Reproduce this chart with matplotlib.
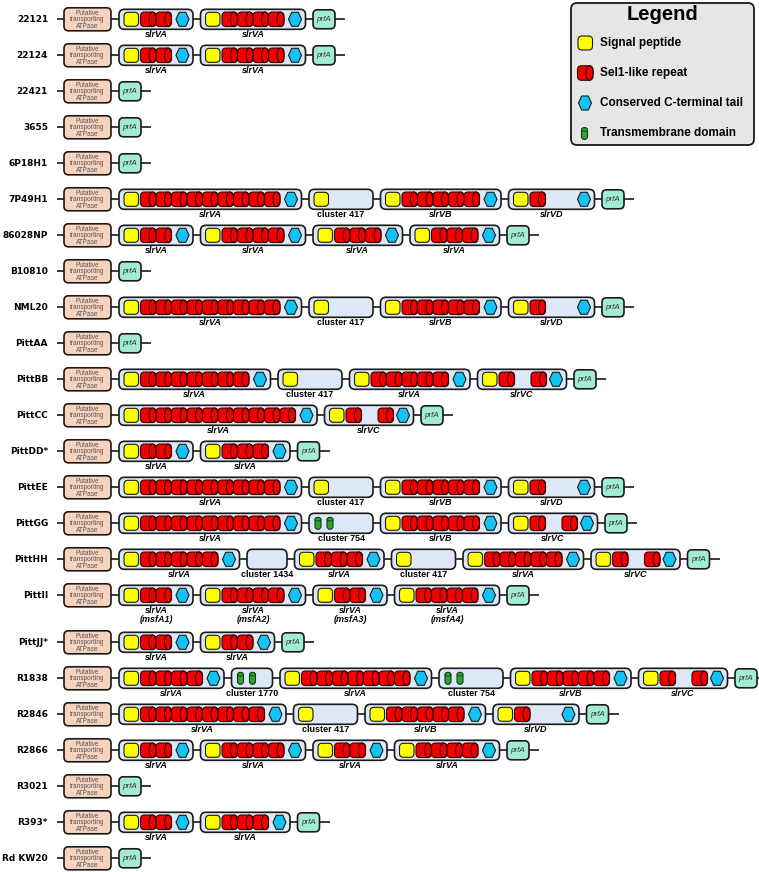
import matplotlib
matplotlib.use("Agg")
import matplotlib.pyplot as plt
from matplotlib.patches import FancyBboxPatch, Ellipse, Polygon

# strains, top to bottom
STRAINS = ["22121", "22124", "22421", "3655", "6P18H1", "7P49H1", "86028NP",
           "B10810", "NML20", "PittAA", "PittBB", "PittCC", "PittDD*", "PittEE",
           "PittGG", "PittHH", "PittII", "PittJJ*", "R1838", "R2846", "R2866",
           "R3021", "R393*", "Rd KW20"]

# genes between the ATPase and prfA; "A4" = slrVA with 4 Sel1-like repeats
LOCI = [
    ["A2", "A4"],
    ["A2", "A4"],
    [], [], [],
    ["A9", "417", "B5", "D"],
    ["A2", "A4", "A3", "A3"],
    [],
    ["A9", "417", "B5", "D"],
    [],
    ["A7", "417", "A5", "C"],
    ["A10", "C"],
    ["A2", "A3"],
    ["A9", "417", "B5", "D"],
    ["A9", "754", "B5", "C"],
    ["A5", "1434", "A3", "417", "A5", "C"],
    ["A2", "A4", "A2", "A4"],
    ["A2", "A2"],
    ["A4", "1770", "A7", "754", "B5", "C"],
    ["A8", "417", "B5", "D"],
    ["A2", "A4", "A2", "A4"],
    [],
    ["A2", "A3"],
    [],
]

# second label line (PittII only)
SUBLABELS = {"PittII": ["(msfA1)", "(msfA2)", "(msfA3)", "(msfA4)"]}

LEGEND_ITEMS = ["Signal peptide", "Sel1-like repeat",
                "Conserved C-terminal tail", "Transmembrane domain"]

YELLOW = "#FFFF00"
RED = "#F20000"
BLUE = "#14C3F5"
GREEN = "#35A035"
GENE_FILL = "#DCE8F7"
ATP_FILL = "#F8D4BF"
PRF_FILL = "#A2EBD4"
EDGE = "#1a1a1a"

REP_W = 15.5
GAP = 7.5
ROW_STEP = 36
LABEL_FONT = "Liberation Sans"


def rbox(ax, x, y, w, h, r, fc, lw=1.2, z=2, ec=EDGE):
    ax.add_patch(FancyBboxPatch((x, y), w, h,
                                boxstyle=f"round,pad=0,rounding_size={r}",
                                fc=fc, ec=ec, lw=lw, zorder=z))


def signal(ax, x, cy):
    rbox(ax, x, cy - 7, 14.5, 14, 4, YELLOW, lw=0.8, z=4)


def repeat(ax, x, cy):
    h = 14.5
    rbox(ax, x, cy - h / 2, REP_W, h, 4, RED, lw=0.8, z=4, ec="#330000")
    ax.add_patch(Ellipse((x + REP_W - 3.5, cy), 7, h, fc=RED, ec="#330000",
                         lw=0.8, zorder=5))


def ctail(ax, x, cy):
    pts = [(x, cy), (x + 3.2, cy - 7), (x + 9.8, cy - 7), (x + 13, cy),
           (x + 9.8, cy + 7), (x + 3.2, cy + 7)]
    ax.add_patch(Polygon(pts, closed=True, fc=BLUE, ec=EDGE, lw=0.8, zorder=4))


def tm(ax, cx, cy):
    rbox(ax, cx - 3, cy - 6, 6, 12, 3, GREEN, lw=0.8, z=4, ec="#0f3a0f")
    ax.add_patch(Ellipse((cx, cy - 4), 6, 3.5, fc=GREEN, ec="#0f3a0f",
                         lw=0.6, zorder=5))


def gene_length(code):
    if code[0] in "AB" and code[1:].isdigit():
        return 43 + int(code[1:]) * REP_W
    return {"C": 89, "D": 86, "417": 64, "754": 64, "1434": 40, "1770": 41}[code]


def draw_gene(ax, code, x, cy):
    L = gene_length(code)
    rbox(ax, x, cy - 10, L, 20, 5.5, GENE_FILL)
    if code[0] in "AB" and code[1:].isdigit():
        n = int(code[1:])
        signal(ax, x + 5, cy)
        for k in range(n):
            repeat(ax, x + 21.5 + k * REP_W, cy)
        ctail(ax, x + L - 17, cy)
        label, italic = "slrV" + code[0], True
    elif code in ("C", "D"):
        signal(ax, x + 5, cy)
        repeat(ax, x + 21.5, cy)
        if code == "C":
            repeat(ax, x + L - 20 - REP_W, cy)
        ctail(ax, x + L - 17, cy)
        label, italic = "slrV" + code, True
    else:
        if code == "417":
            signal(ax, x + 5, cy)
        elif code in ("754", "1770"):
            tm(ax, x + 9, cy)
            tm(ax, x + 21, cy)
        label, italic = "cluster " + code, False
    return L, label, italic


fig = plt.figure(figsize=(7.59, 8.72), dpi=100)
ax = fig.add_axes([0, 0, 1, 1])
ax.set_xlim(0, 759)
ax.set_ylim(872, 0)
ax.axis("off")

extra = 0
for i, (strain, genes) in enumerate(zip(STRAINS, LOCI)):
    cy = 19.3 + i * ROW_STEP + extra
    ax.text(48, cy, strain, ha="right", va="center", fontsize=6.5,
            fontweight="bold", family="DejaVu Sans")

    rbox(ax, 64, cy - 11.5, 47, 23, 4.5, ATP_FILL)
    ax.text(87.5, cy + 0.5, "Putative\ntransporting\nATPase", ha="center",
            va="center", fontsize=4.7, color="#555555", family=LABEL_FONT,
            linespacing=0.95, zorder=6)

    x = 119
    subs = SUBLABELS.get(strain)
    for j, code in enumerate(genes):
        L, label, italic = draw_gene(ax, code, x, cy)
        if subs:
            label = label + "\n" + subs[j]
        ax.text(x + L / 2, cy + 10.5, label, ha="center", va="top",
                fontsize=6.5, fontweight="bold", family=LABEL_FONT,
                style="italic" if italic else "normal", linespacing=1.0)
        x += L + GAP

    rbox(ax, x, cy - 9.5, 22, 19, 4.5, PRF_FILL)
    ax.text(x + 11, cy, "prfA", ha="center", va="center", fontsize=5.8,
            style="italic", color="#333333", family=LABEL_FONT, zorder=6)
    ax.plot([57, x + 32], [cy, cy], color=EDGE, lw=1.2, zorder=1,
            solid_capstyle="butt")

    if subs:
        extra += 11

# legend
rbox(ax, 571, 3, 183, 142, 6, "#E6E6E6", lw=1.3)
ax.text(662.5, 15, "Legend", ha="center", va="center", fontsize=14.5,
        fontweight="bold", family=LABEL_FONT)
leg_y = [43, 73, 103, 133.5]
signal(ax, 578, leg_y[0])
repeat(ax, 577.5, leg_y[1])
ctail(ax, 578.5, leg_y[2])
tm(ax, 584.5, leg_y[3])
for yy, txt in zip(leg_y, LEGEND_ITEMS):
    ax.text(600.5, yy, txt, ha="left", va="center", fontsize=8.5,
            fontweight="bold", family=LABEL_FONT)

fig.savefig("out.png", dpi=100)
